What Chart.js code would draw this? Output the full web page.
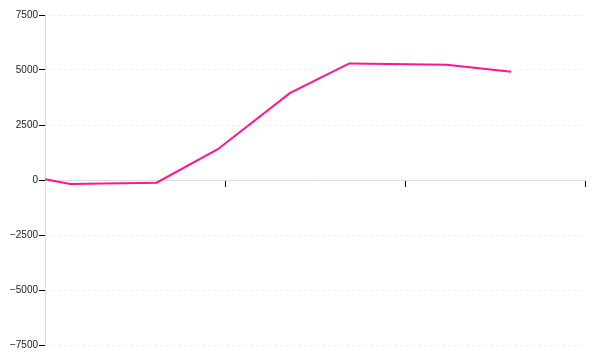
<!DOCTYPE html>
<html>
<head>
<meta charset="utf-8">
<script src="https://cdn.jsdelivr.net/npm/chart.js@4/dist/chart.umd.min.js"></script>
<style>
  html, body { margin: 0; padding: 0; background: #fff; }
  #wrap { width: 600px; height: 360px; }
</style>
</head>
<body>
<div id="wrap"><canvas id="chart" width="600" height="360"></canvas></div>
<script>
const xValues = [0, 1.4, 6.2, 9.6, 13.6, 16.9, 22.3, 25.9];
const yValues = [40, -180, -120, 1400, 3950, 5300, 5240, 4920];
const yTicks = [-7500, -5000, -2500, 0, 2500, 5000, 7500];

const points = xValues.map((x, i) => ({ x, y: yValues[i] }));

const fmt = (v) => (v < 0 ? "\u2212" + Math.abs(v) : String(v));

new Chart(document.getElementById("chart"), {
  type: "line",
  data: {
    datasets: [
      {
        data: points,
        borderColor: "#ff1493",
        borderWidth: 2,
        pointRadius: 0,
        tension: 0,
        fill: false,
      },
    ],
  },
  options: {
    responsive: false,
    animation: false,
    layout: { padding: { top: 15, right: 15, bottom: 15, left: 0 } },
    plugins: { legend: { display: false }, tooltip: { enabled: false } },
    scales: {
      x: {
        type: "linear",
        position: { y: 0 },
        min: 0,
        max: 30,
        z: 1,
        ticks: { display: false, stepSize: 10 },
        grid: { drawOnChartArea: false, tickColor: "#000", tickLength: 6, color: "#000" },
        border: { color: "#ddd" },
      },
      y: {
        min: yTicks[0],
        max: yTicks[yTicks.length - 1],
        afterFit: (s) => { s.width = 45; },
        afterBuildTicks: (s) => { s.ticks = yTicks.map((v) => ({ value: v })); },
        ticks: {
          padding: 1,
          color: "#222",
          font: { family: "Liberation Sans", size: 10 },
          callback: (v) => fmt(v),
        },
        grid: { color: "#eee", tickColor: "#000", tickLength: 6 },
        border: { color: "#ddd", dash: [3, 3] },
      },
    },
  },
});
</script>
</body>
</html>
